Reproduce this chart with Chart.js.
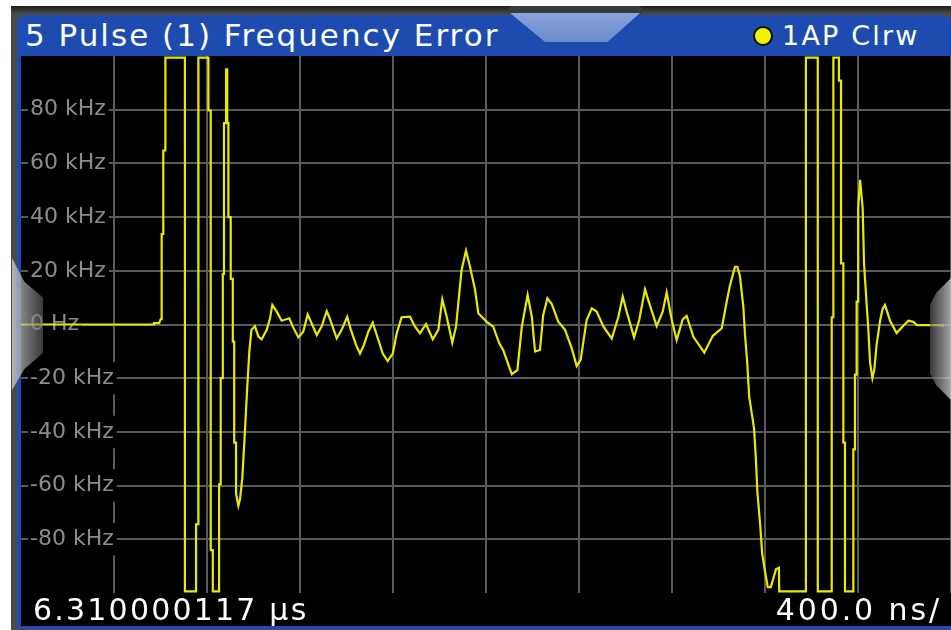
<!DOCTYPE html>
<html lang="en">
<head>
  <meta charset="UTF-8" />
  <title>5 Pulse (1) Frequency Error</title>
  <style>
    body { margin:0; width:951px; height:630px; background:#fff; overflow:hidden;
           position:relative; font-family:"DejaVu Sans", sans-serif; }
    #frame { position:absolute; left:11px; top:6px; right:0; bottom:0;
             background:linear-gradient(#1e1e1e, #4a4a4a 8px, #4a4a4a); }
    #header { position:absolute; left:17px; top:15px; width:934px; height:41px;
              background:#1d4bb0; border-radius:8px 8px 0 0; }
    #title { position:absolute; left:8px; top:0; line-height:41px; color:#fff;
             font-size:31px; letter-spacing:2px; white-space:nowrap; }
    #trace-info { position:absolute; left:736px; top:0; line-height:41px; color:#fff;
                  font-size:27px; letter-spacing:2.2px; white-space:nowrap; }
    #trace-info .dot { display:inline-block; width:16px; height:16px; border-radius:50%;
                       background:#f2f200; border:2px solid #111; vertical-align:-1px;
                       margin-right:9px; }
    #tab { position:absolute; left:510px; top:13px; width:130px; height:29px;
           background:linear-gradient(#8aa4dc, #6a8acd);
           clip-path:polygon(0 0, 100% 0, 75% 100%, 27% 100%); }
    #tab-top { position:absolute; left:508px; top:6px; width:134px; height:8px;
               background:#3a3a3a; border-radius:4px 4px 0 0; }
    #leftline { position:absolute; left:17px; top:56px; width:4px; height:572px; background:#1d4bb0; }
    #chart-box { position:absolute; left:21px; top:56px; width:930px; height:537px; background:#000; }
    #footer { position:absolute; left:21px; top:593px; width:930px; height:33px; background:#000;
              border-bottom:3px solid #1d4bb0; color:#fff; font-size:30px; letter-spacing:2.2px;
              line-height:33px; white-space:nowrap; }
    #footer .l { position:absolute; left:12px; }
    #footer .r { position:absolute; right:9px; letter-spacing:2.9px; }
    .side { position:absolute; background:linear-gradient(90deg, rgba(205,205,205,.8), rgba(95,95,95,.6)); }
    #side-left { left:12px; top:258px; width:31px; height:132px;
                 clip-path:polygon(0 0, 40% 18%, 100% 30%, 100% 72%, 40% 84%, 0 100%); }
    #side-right { left:930px; top:278px; width:21px; height:122px;
                  background:linear-gradient(90deg, rgba(95,95,95,.6), rgba(205,205,205,.8));
                  clip-path:polygon(100% 0, 30% 12%, 0 22%, 0 78%, 30% 88%, 100% 100%); }
  </style>
</head>
<body>
  <div id="frame"></div>
  <div id="tab-top"></div>
  <div id="header">
    <div id="title"></div>
    <div id="trace-info"><span class="dot"></span><span id="trace-text"></span></div>
  </div>
  <div id="tab"></div>
  <div id="leftline"></div>
  <div id="chart-box"><canvas id="chart"></canvas></div>
  <div id="footer"><span class="l" id="start"></span><span class="r" id="span"></span></div>
  <div class="side" id="side-left"></div>
  <div class="side" id="side-right"></div>

  <script src="https://cdn.jsdelivr.net/npm/chart.js"></script>
  <script>
  // texts
  const titleText = '5 Pulse (1) Frequency Error';
  const traceText = '1AP Clrw';
  const startText = '6.310000117 µs';
  const spanText = '400.0 ns/';

  // axes: time offset in ns (10 div x 400 ns), frequency error in kHz
  const timeMin = 0, timeMax = 4000, timeStep = 400;
  const freqMin = -100, freqMax = 100, freqStep = 20;
  const labelledFreqs = [80, 60, 40, 20, 0, -20, -40, -60, -80];

  // trace (ns, kHz); +-99.4 = clipped at screen edge
  const timeNs = [
    0, 569, 572, 594, 601, 605, 605, 612, 612, 621, 621, 705, 705, 753, 753, 763, 763, 806, 806, 816,
    816, 825, 825, 852, 852, 859, 859, 868, 868, 873, 873, 882, 882, 887, 887, 892, 892, 902, 902, 911,
    911, 917, 917, 925, 925, 935, 942, 952, 963, 973, 982, 991, 1006, 1021, 1035, 1057, 1071, 1081, 1100, 1121,
    1154, 1169, 1193, 1214, 1233, 1250, 1272, 1293, 1315, 1326, 1358, 1379, 1403, 1419, 1441, 1458, 1475, 1494, 1513, 1530,
    1556, 1577, 1599, 1616, 1637, 1673, 1695, 1716, 1742, 1771, 1795, 1812, 1831, 1855, 1871, 1895, 1914, 1931, 1953, 1967,
    2003, 2031, 2057, 2074, 2111, 2135, 2154, 2179, 2197, 2211, 2232, 2246, 2264, 2283, 2311, 2340, 2369, 2390, 2407, 2433,
    2455, 2476, 2505, 2541, 2569, 2588, 2605, 2637, 2659, 2684, 2698, 2734, 2760, 2777, 2799, 2820, 2846, 2863, 2892, 2939,
    2975, 3014, 3038, 3049, 3071, 3081, 3092, 3107, 3114, 3124, 3132, 3143, 3153, 3161, 3167, 3179, 3188, 3200, 3212, 3225,
    3236, 3247, 3260, 3261, 3376, 3376, 3427, 3427, 3487, 3487, 3494, 3494, 3518, 3518, 3527, 3527, 3537, 3537, 3544, 3544,
    3580, 3580, 3587, 3587, 3594, 3594, 3601, 3601, 3609, 3620, 3626, 3634, 3644, 3652, 3662, 3670, 3680, 3695, 3706, 3716,
    3738, 3766, 3795, 3817, 3838, 3853, 3960, 3970
  ];
  const freqKHz = [
    0, 0, 0.5, 0.5, 2, 2, 33.7, 33.7, 64.8, 64.8, 99.4, 99.4, -99.4, -99.4, -74.4, -74.4, 99.4, 99.4, 79.7, 79.7,
    -84, -84, -99.4, -99.4, -59.5, -59.5, -20, -20, 18.8, 18.8, 75, 75, 95, 95, 75, 75, 40, 40, 17, 17,
    -6.4, -6.4, -44, -44, -63, -67.5, -65, -57, -40, -23.4, -10.2, -2, -0.6, -4.5, -5.5, -2, 2.3, 7.3, 4.8, 1.4,
    2.3, -0.8, -4.8, -2.7, 3.8, 0.4, -3.9, -0.8, 5, 2.7, -5.2, -2, 2.9, -2, -7.6, -10.8, -7.6, -2.7, 0.7, -3.9,
    -10.8, -13.6, -10.8, -3.3, 2.7, 2.9, -0.8, -3.3, 0.2, -5.5, -2, 9.4, 2.9, -6.8, -0.8, 20.3, 27.5, 21.6, 12.9, 4.2,
    1, -0.8, -7, -9.5, -18.5, -17, -0.8, 11, 2.9, -10.1, -9.5, 3.5, 9.8, 7.6, 1, -2, -8.9, -15.5, -13.2, 1.7,
    6, 4.8, -0.8, -5.2, 2.7, 10.4, 4.8, -4.8, 1.7, 13.1, 9.1, -0.6, 4.8, 11.9, 1.7, -5.8, 1.9, 3.2, -4.6, -10.5,
    -4.3, -1.4, 9.8, 14.4, 21.5, 21.5, 18.2, 6.5, -3.8, -14.7, -27, -33, -38.8, -50.4, -62, -74.4, -85.4, -91.9, -97.8, -97.8,
    -94.5, -91.2, -90.6, -99.4, -99.4, 99.4, 99.4, -99.4, -99.4, 2.7, 2.7, 99.4, 99.4, 90.8, 90.8, 22.8, 22.8, -44, -44, -99.4,
    -99.4, -46.5, -46.5, -18.7, -18.7, 8.5, 8.5, 43.5, 53.9, 43.5, 22.6, 11.8, -1.2, -14.2, -20, -16.8, -7.6, 1.4, 5.9, 7.3,
    1.4, -3.2, -0.5, 1.4, 1, -0.2, -0.2, -0.5
  ];

  document.getElementById('title').textContent = titleText;
  document.getElementById('trace-text').textContent = traceText;
  document.getElementById('start').textContent = startText;
  document.getElementById('span').textContent = spanText;

  const gridColor = '#5a5a5a';

  // keep the plot flush with the canvas: no room for axes or label overhang
  function noRoom(s) {
    s.width = s.isHorizontal() ? s.width : 0;
    s.height = s.isHorizontal() ? 0 : s.height;
    s.paddingTop = s.paddingBottom = s.paddingLeft = s.paddingRight = 0;
  }

  new Chart(document.getElementById('chart'), {
    type: 'line',
    data: {
      datasets: [{
        data: timeNs.map((t, i) => ({ x: t, y: freqKHz[i] })),
        borderColor: '#eaea00',
        borderWidth: 2.2,
        pointRadius: 0,
        tension: 0,
        fill: false
      }]
    },
    options: {
      responsive: true,
      maintainAspectRatio: false,
      animation: false,
      layout: { padding: 0 },
      plugins: { legend: { display: false }, tooltip: { enabled: false } },
      scales: {
        x: {
          type: 'linear', min: timeMin, max: timeMax,
          ticks: { display: false, stepSize: timeStep },
          grid: { z: -1, lineWidth: 2, drawTicks: false,
                  color: c => c.tick.value === timeMin ? 'rgba(0,0,0,0)' : gridColor },
          border: { display: false },
          afterFit: noRoom
        },
        y: {
          min: freqMin, max: freqMax,
          ticks: {
            stepSize: freqStep, mirror: true, padding: 9,
            color: '#8c8c8c',
            font: { family: 'DejaVu Sans', size: 22 },
            showLabelBackdrop: true,
            backdropColor: '#000',
            backdropPadding: { top: 3, bottom: 3, left: 2, right: 3 },
            callback: v => labelledFreqs.includes(v) ? (v === 0 ? '0 Hz' : v + ' kHz') : null
          },
          grid: { z: -1, lineWidth: 2, drawTicks: false,
                  color: c => c.tick.value === freqMax ? 'rgba(0,0,0,0)' : gridColor },
          border: { display: false },
          afterFit: noRoom
        }
      }
    }
  });
  </script>
</body>
</html>
